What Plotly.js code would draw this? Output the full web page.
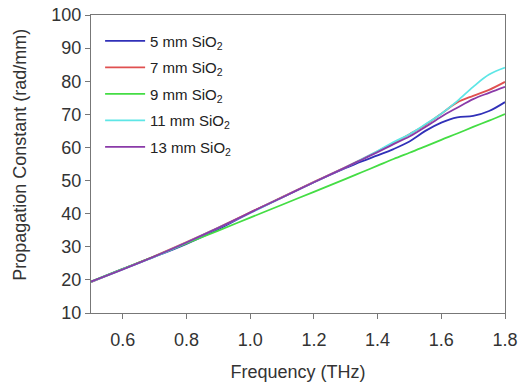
<!DOCTYPE html>
<html>
<head>
<meta charset="utf-8">
<script src="https://cdn.plot.ly/plotly-3.0.1.min.js"></script>
<style>html,body{margin:0;padding:0;background:#fff;}#chart{width:520px;height:389px;}</style>
</head>
<body>
<div id="chart"></div>
<script>
const freq = [0.5,0.6,0.7,0.8,0.9,1.0,1.1,1.2,1.3,1.35,1.4,1.45,1.5,1.55,1.6,1.65,1.7,1.75,1.8];
const sio2_5mm  = [19.4,23.3,27.0,30.9,35.3,40.3,44.9,49.5,53.8,55.8,57.6,59.5,61.8,65.0,67.5,69.1,69.5,71.0,73.7];
const sio2_7mm  = [19.3,23.3,27.2,31.4,35.8,40.4,45.0,49.6,54.1,56.4,58.8,61.3,64.0,66.8,70.2,73.6,75.6,77.4,79.8];
const sio2_9mm  = [19.5,23.3,27.1,31.0,34.9,38.8,42.7,46.6,50.5,52.5,54.5,56.5,58.4,60.3,62.3,64.2,66.2,68.1,70.1];
const sio2_11mm = [19.4,23.2,27.0,31.3,35.7,40.2,44.9,49.5,54.0,56.4,58.9,61.6,64.0,67.0,70.2,74.0,78.3,82.0,84.1];
const sio2_13mm = [19.5,23.2,27.1,31.3,35.7,40.3,44.9,49.5,54.0,56.3,58.6,61.0,63.3,66.2,69.3,72.0,74.6,76.5,78.3];
const names = ['5 mm SiO<sub>2</sub>','7 mm SiO<sub>2</sub>','9 mm SiO<sub>2</sub>','11 mm SiO<sub>2</sub>','13 mm SiO<sub>2</sub>'];
const series = [sio2_5mm, sio2_7mm, sio2_9mm, sio2_11mm, sio2_13mm];
const colors = ['#3030b8','#e05050','#44dd44','#5ee6e6','#8a3aa8'];
const yTitle = 'Propagation Constant (rad/mm)';
const xTitle = 'Frequency (THz)';

const traces = series.map((s,i)=>({
  x: freq, y: s, name: names[i], type:'scatter', mode:'lines', legendgroup:'g'+i,
  line:{color:colors[i], width:1.8, shape:'spline', smoothing:1}
}));

const fam = '"Liberation Sans", Arial, sans-serif';
const axisFont = {family:fam, size:18, color:'#333'};
const layout = {
  width:520, height:389,
  margin:{l:91, r:15, t:15, b:76},
  paper_bgcolor:'#fff', plot_bgcolor:'#fff',
  showlegend:true,
  legend:{x:0.022, y:0.968, xanchor:'left', yanchor:'top', bgcolor:'rgba(0,0,0,0)',
          font:{family:fam, size:15, color:'#222'}, traceorder:'grouped',
          tracegroupgap:4, itemwidth:40},
  xaxis:{range:[0.5,1.8], tickvals:[0.6,0.8,1.0,1.2,1.4,1.6,1.8], ticktext:['0.6','0.8','1.0','1.2','1.4','1.6','1.8'],
         showgrid:false, zeroline:false, showline:true, linecolor:'#777', linewidth:1.2, mirror:true,
         ticks:'outside', ticklen:5, tickcolor:'#777', tickfont:axisFont, ticklabelstandoff:5,
         title:{text:xTitle, font:axisFont, standoff:16}},
  yaxis:{range:[10,100], tickvals:[10,20,30,40,50,60,70,80,90,100],
         showgrid:false, zeroline:false, showline:true, linecolor:'#777', linewidth:1.2, mirror:true,
         ticks:'outside', ticklen:5, tickcolor:'#777', tickfont:axisFont},
  annotations:[{text:yTitle, xref:'paper', yref:'paper', x:-0.172, y:0.53, xanchor:'center', yanchor:'middle',
                textangle:-90, showarrow:false, font:{family:fam, size:18, color:'#333'}}],
  font:{family:fam}
};
Plotly.newPlot('chart', traces, layout, {displayModeBar:false, staticPlot:true});
</script>
</body>
</html>
